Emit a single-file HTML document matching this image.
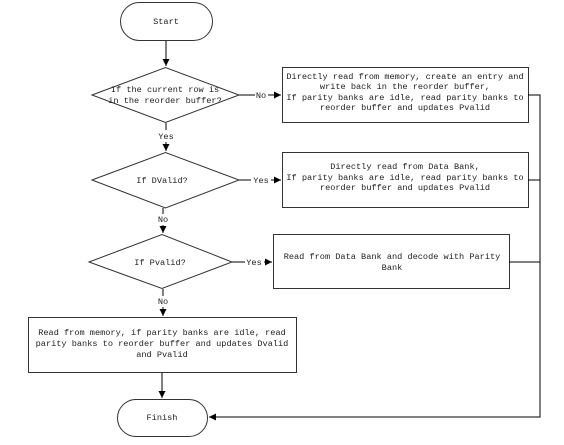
<!DOCTYPE html>
<html><head><meta charset="utf-8"><style>
html,body{margin:0;padding:0;background:#fff;}
svg{display:block;}
text{font-family:"Liberation Mono","Noto Serif CJK SC",monospace;font-size:8.6px;fill:#222;}
</style></head><body>
<svg width="564" height="445" viewBox="0 0 564 445" xmlns="http://www.w3.org/2000/svg">
<defs><marker id="a" markerWidth="8" markerHeight="8" refX="7" refY="4" orient="auto" markerUnits="userSpaceOnUse"><path d="M0,0.5 L7,4 L0,7.5 z" fill="#000"/></marker></defs>
<g fill="#fff" stroke="#333" stroke-width="1">
<rect x="120.5" y="2.5" width="92" height="38" rx="19"/>
<polygon points="92,95 165.5,67.5 239,95 165.5,122.5"/>
<rect x="282.5" y="67.5" width="246" height="55"/>
<polygon points="92,180 165.5,152.5 239,180 165.5,208"/>
<rect x="282.5" y="152.5" width="246" height="55"/>
<polygon points="89,262 162,234.5 232,262 162,288.5"/>
<rect x="273.5" y="234.5" width="236" height="54"/>
<rect x="28.5" y="317.5" width="268" height="55"/>
<rect x="117.5" y="399.5" width="90" height="37" rx="18.5"/>
</g>
<g stroke="#000" stroke-width="1" fill="none">
<line x1="166" y1="41" x2="166" y2="66" marker-end="url(#a)"/>
<line x1="239" y1="95" x2="255" y2="95"/><line x1="268" y1="95" x2="281" y2="95" marker-end="url(#a)"/>
<line x1="166" y1="123" x2="166" y2="130"/><line x1="166" y1="142" x2="166" y2="151" marker-end="url(#a)"/>
<line x1="239" y1="180" x2="251" y2="180"/><line x1="271" y1="180" x2="281" y2="180" marker-end="url(#a)"/>
<line x1="163" y1="208" x2="163" y2="214"/><line x1="163" y1="225" x2="163" y2="233" marker-end="url(#a)"/>
<line x1="232" y1="262" x2="245" y2="262"/><line x1="264" y1="262" x2="272" y2="262" marker-end="url(#a)"/>
<line x1="163" y1="289" x2="163" y2="296"/><line x1="163" y1="307" x2="163" y2="316" marker-end="url(#a)"/>
<line x1="162" y1="373" x2="162" y2="398" marker-end="url(#a)"/>
<polyline points="528,95 540,95 540,417 209,417" marker-end="url(#a)"/>
<line x1="528" y1="180" x2="540" y2="180"/>
<line x1="509" y1="262" x2="540" y2="262"/>
</g>
<g text-anchor="middle">
<text x="166" y="24">Start</text>
<text x="165" y="92">If the current row is</text>
<text x="165" y="103">in the reorder buffer?</text>
<text x="261" y="98">No</text>
<text x="405" y="79">Directly read from memory, create an entry and</text>
<text x="405" y="89">write back in the reorder buffer,</text>
<text x="405" y="100">If parity banks are idle, read parity banks to</text>
<text x="405" y="110">reorder buffer and updates Pvalid</text>
<text x="166" y="139">Yes</text>
<text x="162" y="183">If DValid?</text>
<text x="261" y="183">Yes</text>
<text x="405" y="169">Directly read from Data Bank,</text>
<text x="405" y="180">If parity banks are idle, read parity banks to</text>
<text x="405" y="190">reorder buffer and updates Pvalid</text>
<text x="163" y="222">No</text>
<text x="160" y="265">If Pvalid?</text>
<text x="254" y="265">Yes</text>
<text x="392" y="259">Read from Data Bank and decode with Parity</text>
<text x="392" y="270">Bank</text>
<text x="163" y="304">No</text>
<text x="162" y="335">Read from memory, if parity banks are idle, read</text>
<text x="162" y="346">parity banks to reorder buffer and updates Dvalid</text>
<text x="162" y="357">and Pvalid</text>
<text x="162" y="420">Finish</text>
</g>
</svg>
</body></html>
